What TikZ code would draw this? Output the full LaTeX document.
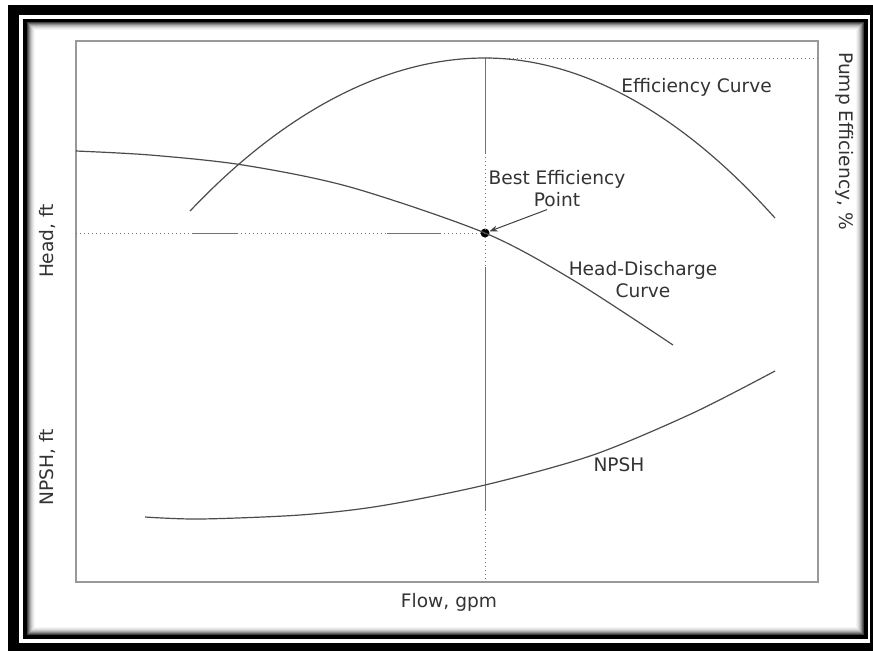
\documentclass[tikz,border=0pt]{standalone}
\usepackage{fontspec}
\setmainfont{DejaVu Sans}
\usetikzlibrary{arrows.meta}
\tikzset{
  curve/.style = {line width=0.6pt, black!70},
  guide/.style = {line width=0.5pt, black!55},
  dots/.style = {guide, dash pattern=on 0.5pt off 1.5pt},
  lbl/.style = {text=black!80, font=\fontsize{9.3}{11}\selectfont, align=center, inner sep=1pt},
}

\begin{document}
\begin{tikzpicture}[x=0.5pt, y=-0.5pt]
\useasboundingbox (0,0) rectangle (873,650);
\fill[white] (0,0) rectangle (873,650);
% frame
\fill[black] (8,5) rectangle (880,660);
\fill[white] (19,15) rectangle (870,643);
\fill[black] (23,19) rectangle (868,639);
\fill[white] (27,22) rectangle (864,635);
\foreach \i/\g in {0/75,1/60,2/45,3/32,4/22,5/14,6/8,7/4}
  \draw[black!\g, line width=0.5pt] (27.5+\i,22.5+\i) rectangle (863.5-\i,634.5-\i);

% axes box
\draw[black!40, line width=0.75pt] (76,41) rectangle (818,582);

% guide lines through the best efficiency point
\coordinate (peak) at (485,58);
\coordinate (edge) at (818,58);
\node[circle, fill=black, inner sep=0pt, minimum size=4.5pt] (bep) at (485,233) {};
\draw[dots] (peak) -- (edge);
\draw[guide] (peak) -- (485,153);
\draw[dots] (485,153) -- (bep.center) -- (485,267);
\draw[guide] (485,267) -- (485,510);
\draw[dots] (485,510) -- (485,582);
\draw[dots] (76,233) -- (192,233);
\draw[guide] (192,233) -- (237,233);
\draw[dots] (237,233) -- (387,233);
\draw[guide] (387,233) -- (440,233);
\draw[dots] (440,233) -- (bep.center);

% curves
\draw[curve] (190,211) parabola bend (peak) (775,218);
\draw[curve] plot[smooth] coordinates {(76,151) (150,155) (243,165) (350,187) (485,233) (573,280) (673,345)};
\draw[curve] plot[smooth] coordinates {(145,517) (200,519) (300,515) (380,506) (485,485) (593,455) (693,413) (775,371)};

% labels
\node[lbl, anchor=west] (effcurve) at (619,87) {Efficiency Curve};
\node[lbl] (beplbl) at (557,189) {Best Efficiency\\Point};
\node[lbl] (headcurve) at (643,280) {Head-Discharge\\Curve};
\node[lbl] (npsh) at (619,465) {NPSH};
\draw[black!75, line width=0.5pt, -{Stealth[length=4pt, width=3pt]}] ([xshift=-5pt]beplbl.south) -- (bep);

\node[lbl, rotate=90] (headax) at (48,241) {Head, ft};
\node[lbl, rotate=90] (npshax) at (48,467) {NPSH, ft};
\node[lbl, rotate=-90] (effax) at (845,141) {Pump Efficiency, \%};
\node[lbl] (flowax) at (449,602) {Flow, gpm};
\end{tikzpicture}
\end{document}
